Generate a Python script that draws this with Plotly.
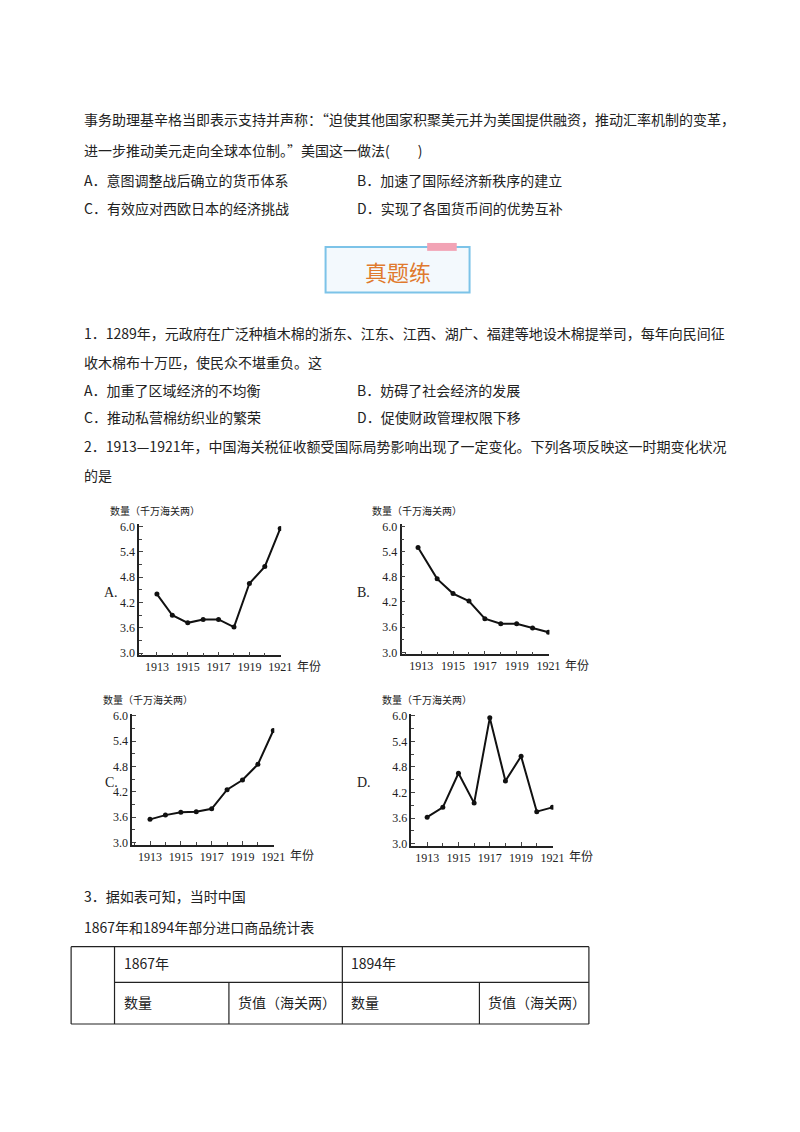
import plotly.graph_objects as go

years = [1913, 1914, 1915, 1916, 1917, 1918, 1919, 1920, 1921]
vals_a = [4.4, 3.9, 3.72, 3.8, 3.8, 3.62, 4.65, 5.05, 5.95]
vals_b = [5.5, 4.75, 4.4, 4.22, 3.8, 3.68, 3.68, 3.58, 3.48]
vals_c = [3.55, 3.65, 3.72, 3.73, 3.8, 4.25, 4.48, 4.85, 5.65]
vals_d = [3.62, 3.85, 4.65, 3.95, 5.95, 4.47, 5.05, 3.75, 3.85]
y_ticks = [3.0, 3.6, 4.2, 4.8, 5.4, 6.0]
x_ticks = [1913, 1915, 1917, 1919, 1921]

W, H = 800, 1132
FONT = "Noto Sans CJK SC"
fig = go.Figure()

def px(x):
    return x / W

def py(y):
    return 1 - y / H

# (name, values, axis_x, x1913, x1921, axis_end, y6, y3)
panels = [
    ("A", vals_a, 133, 151, 276, 277, 518, 646),
    ("B", vals_b, 399, 419, 548, 549, 518, 645),
    ("C", vals_c, 126, 144, 269, 270, 709, 837),
    ("D", vals_d, 409, 425, 552, 553, 709, 838),
]

layout_axes = {}
for i, (name, vals, ax, p13, p21, pend, y6, y3) in enumerate(panels, start=1):
    step = (p21 - p13) / 8
    x0 = 1913 - (p13 - ax) / step
    x1 = 1921 + (pend - p21) / step
    yb = y3 + 2
    ppu = (y3 - y6) / 3.0
    ylo = 3.0 - (yb - y3) / ppu
    xs = years
    if name == "B":
        xs = [1912.8] + years[1:]
    fig.add_trace(go.Scatter(
        x=xs, y=vals, mode="lines+markers",
        line=dict(color="#111", width=2),
        marker=dict(color="#111", size=5),
        xaxis="x%d" % i, yaxis="y%d" % i, showlegend=False))
    sfx = "" if i == 1 else str(i)
    layout_axes["xaxis" + sfx] = dict(
        domain=[px(ax), px(pend)], range=[x0, x1], anchor="y%d" % i,
        tickvals=x_ticks, ticks="inside", ticklen=4, showgrid=False,
        zeroline=False, showline=True, linecolor="#222", linewidth=1.5,
        minor=dict(dtick=1, ticks="inside", ticklen=3, tick0=1913),
        tickfont=dict(family="Liberation Serif", size=12, color="#222"))
    layout_axes["yaxis" + sfx] = dict(
        domain=[py(yb), py(y6 - 2)], range=[ylo, 6.0 + 2 / ppu], anchor="x%d" % i,
        tickvals=y_ticks, tickformat=".1f", ticks="inside", ticklen=4,
        showgrid=False, zeroline=False, showline=True, linecolor="#222", linewidth=1.5,
        minor=dict(dtick=0.3, tick0=3.0, ticks="inside", ticklen=3),
        tickfont=dict(family="Liberation Serif", size=12, color="#222"))

fig.update_layout(**layout_axes)

ann = []

def txt(x, y, s, size=14, color="#222", family=FONT, anchor="left"):
    ann.append(dict(x=px(x), y=py(y), xref="paper", yref="paper", text=s,
                    showarrow=False, xanchor=anchor, yanchor="middle",
                    font=dict(family=family, size=size, color=color)))

lines = [
    (75, 107, "事务助理基辛格当即表示支持并声称：“迫使其他国家积聚美元并为美国提供融资，推动汇率机制的变革，"),
    (75, 138, "进一步推动美元走向全球本位制。”美国这一做法(　　)"),
    (75, 168, "A．意图调整战后确立的货币体系"),
    (352, 168, "B．加速了国际经济新秩序的建立"),
    (75, 197, "C．有效应对西欧日本的经济挑战"),
    (352, 197, "D．实现了各国货币间的优势互补"),
    (75, 323, "1．1289年，元政府在广泛种植木棉的浙东、江东、江西、湖广、福建等地设木棉提举司，每年向民间征"),
    (75, 352, "收木棉布十万匹，使民众不堪重负。这"),
    (75, 380, "A．加重了区域经济的不均衡"),
    (352, 380, "B．妨碍了社会经济的发展"),
    (75, 408, "C．推动私营棉纺织业的繁荣"),
    (352, 408, "D．促使财政管理权限下移"),
    (75, 437, "2．1913—1921年，中国海关税征收额受国际局势影响出现了一定变化。下列各项反映这一时期变化状况"),
    (75, 466, "的是"),
    (75, 891, "3．据如表可知，当时中国"),
    (75, 922, "1867年和1894年部分进口商品统计表"),
]
for x, y, s in lines:
    txt(x, y, s)

for (name, vals, ax, p13, p21, pend, y6, y3), lx in zip(panels, [95, 352, 96, 352]):
    txt(lx, (y6 + y3) / 2 + 3, name + ".", family="Liberation Serif", size=14)
    txt(ax - 32, y6 - 16, "数量（千万海关两）", size=10)
    txt(pend + 14, y3 + 12, "年份", size=12)

# banner
shapes = [
    dict(type="rect", xref="paper", yref="paper", x0=px(322), x1=px(468),
         y0=py(282), y1=py(236), fillcolor="#f3f9fd", line=dict(color="#7cc3e8", width=2)),
    dict(type="rect", xref="paper", yref="paper", x0=px(425), x1=px(455),
         y0=py(240), y1=py(232), fillcolor="#f2a3b5", line=dict(width=0)),
]
txt(395, 260, "真题练", size=22, color="#e07a2e", anchor="center")

# table
cols = [64, 108, 224, 339, 478, 589]
rows = [942, 978, 1020]
for r in rows:
    shapes.append(dict(type="line", xref="paper", yref="paper", x0=px(64 if r != 978 else 108),
                       x1=px(589), y0=py(r), y1=py(r), line=dict(color="#222", width=1.2)))
for c in cols:
    top = 978 if c in (224, 478) else 942
    shapes.append(dict(type="line", xref="paper", yref="paper", x0=px(c), x1=px(c),
                       y0=py(top), y1=py(1020), line=dict(color="#222", width=1.2)))
txt(116, 958, "1867年")
txt(346, 958, "1894年")
txt(116, 998, "数量")
txt(231, 998, "货值（海关两）")
txt(346, 998, "数量")
txt(485, 998, "货值（海关两）")

fig.update_layout(width=W, height=H, margin=dict(l=0, r=0, t=0, b=0),
                  paper_bgcolor="white", plot_bgcolor="white",
                  annotations=ann, shapes=shapes)
fig.write_html("out.html")
